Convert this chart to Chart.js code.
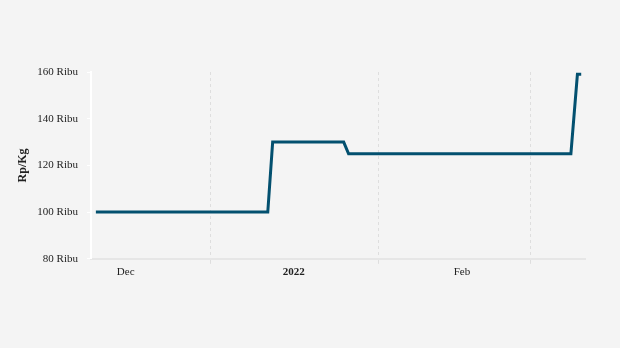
<!DOCTYPE html>
<html>
<head>
<meta charset="utf-8">
<script src="https://cdn.jsdelivr.net/npm/chart.js@4"></script>
<style>
  html, body { margin: 0; padding: 0; background: #f4f4f4; }
  #wrap { width: 620px; height: 348px; }
</style>
</head>
<body>
<div id="wrap"><canvas id="myChart"></canvas></div>
<script>
// days counted from 1 Dec 2021 (day 0)
const days = [9.8, 41.5, 42.4, 55.5, 56.4, 97.4, 98.6, 99.3];
const prices = [100, 100, 130, 130, 125, 125, 159, 159];

// month boundaries (grid) and month label positions
const gridDays = [31, 62, 90];
const labelDays = [15.3, 46.3, 77.3];
const monthLabels = ['Dec', '2022', 'Feb'];

const yTicks = [80, 100, 120, 140, 160];

const serif = "'Liberation Serif', 'Times New Roman', serif";

const myChart = document.getElementById("myChart");

const data = {
  datasets: [{
    data: days.map((d, i) => ({ x: d, y: prices[i] })),
    borderColor: '#03506f',
    borderWidth: 3,
    pointRadius: 0,
    tension: 0,
    fill: false
  }]
};

const config = {
  type: 'line',
  data: data,
  options: {
    responsive: true,
    maintainAspectRatio: false,
    animation: false,
    layout: { padding: { top: 72, right: 35, bottom: 67, left: 16 } },
    plugins: { legend: { display: false }, tooltip: { enabled: false } },
    scales: {
      x: {
        type: 'linear',
        min: 8.9,
        max: 100,
        afterBuildTicks: (axis) => {
          axis.ticks = gridDays.concat(labelDays).sort((a, b) => a - b).map(v => ({ value: v }));
        },
        grid: {
          color: (ctx) => gridDays.includes(ctx.tick && ctx.tick.value) ? '#dedede' : 'rgba(0,0,0,0)',
          lineWidth: 1,
          tickLength: 5
        },
        border: { display: true, color: '#e6e6e6', width: 2, dash: [3, 3] },
        ticks: {
          autoSkip: false,
          maxRotation: 0,
          padding: 2,
          color: '#222',
          font: (ctx) => ({ family: serif, size: 11, weight: (ctx.tick && ctx.tick.value === 46.3) ? 'bold' : 'normal' }),
          callback: (v) => {
            const i = labelDays.indexOf(v);
            return i >= 0 ? monthLabels[i] : '';
          }
        }
      },
      y: {
        min: 80,
        max: 160,
        afterBuildTicks: (axis) => { axis.ticks = yTicks.map(v => ({ value: v })); },
        afterFit: (axis) => { axis.width = 75; },
        grid: { drawOnChartArea: false, drawTicks: true, tickLength: 4, color: '#ffffff', lineWidth: 1 },
        border: { display: true, color: '#ffffff', width: 2 },
        ticks: {
          padding: 9,
          color: '#222',
          font: { family: serif, size: 11 },
          callback: (v) => v + ' Ribu'
        },
        title: {
          display: true,
          text: 'Rp/Kg',
          color: '#222',
          font: { family: serif, size: 12, weight: 'bold' },
          padding: { top: 0, bottom: 4 }
        }
      }
    }
  }
};

const chart = new Chart(myChart, config);
</script>
</body>
</html>
